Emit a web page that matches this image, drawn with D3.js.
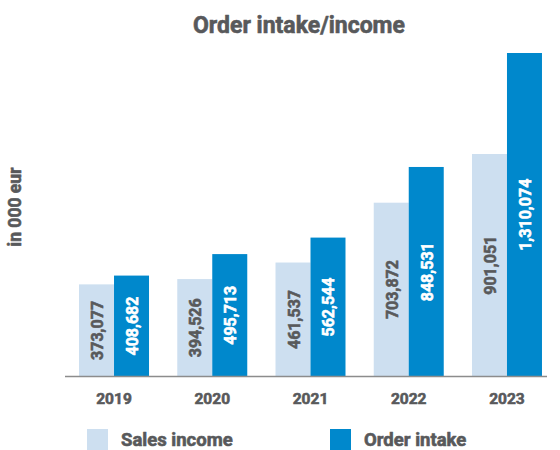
<!DOCTYPE html>
<html>
<head>
<meta charset="utf-8">
<script src="https://cdn.jsdelivr.net/npm/d3@7"></script>
<style>
  html, body { margin: 0; padding: 0; background: #fff; }
  text { font-family: Roboto, "Noto Sans", sans-serif; font-weight: 700; stroke-width: 0.6px; stroke-linejoin: round; }
</style>
</head>
<body>
<svg id="chart" width="560" height="450"></svg>
<script>
// Order intake vs. sales income, in thousand EUR
const years = ["2019", "2020", "2021", "2022", "2023"];
const salesIncome = [373077, 394526, 461537, 703872, 901051];
const orderIntake = [408682, 495713, 562544, 848531, 1310074];
const seriesNames = ["Sales income", "Order intake"];
const seriesColors = ["#cddff0", "#0088cc"];
const labelColors = ["#58595b", "#ffffff"];

const textColor = "#58595b";
const svg = d3.select("#chart");

const baseline = 376.5;
const x0 = d3.scaleBand().domain(years).range([64.9, 556.1])
  .paddingInner(0.2875).paddingOuter(0.14375);
const x1 = d3.scaleBand().domain(seriesNames).range([0, x0.bandwidth()]);
const y = d3.scaleLinear().domain([0, 1310074]).range([baseline, 53]);

const fmt = d3.format(",");

// title
svg.append("text")
  .attr("x", 299).attr("y", 33)
  .attr("text-anchor", "middle")
  .attr("font-size", 23)
  .attr("fill", textColor).attr("stroke", textColor)
  .text("Order intake/income");

// vertical unit label
svg.append("text")
  .attr("transform", "translate(21,207) rotate(-90)")
  .attr("text-anchor", "middle")
  .attr("font-size", 17.5)
  .attr("fill", textColor).attr("stroke", textColor)
  .text("in 000 eur");

const rows = years.map((yr, i) => ({ year: yr, values: [salesIncome[i], orderIntake[i]] }));

const groups = svg.append("g").selectAll("g")
  .data(rows).join("g")
  .attr("transform", d => `translate(${x0(d.year)},0)`);

groups.selectAll("rect")
  .data(d => d.values.map((v, k) => ({ v, k })))
  .join("rect")
  .attr("x", d => x1(seriesNames[d.k]))
  .attr("y", d => y(d.v))
  .attr("width", x1.bandwidth())
  .attr("height", d => baseline - y(d.v))
  .attr("fill", d => seriesColors[d.k]);

groups.selectAll("text.val")
  .data(d => d.values.map((v, k) => ({ v, k })))
  .join("text")
  .attr("class", "val")
  .attr("transform", d => {
    const cx = x1(seriesNames[d.k]) + x1.bandwidth() / 2 + 1;
    const cy = (y(d.v) + baseline) / 2;
    return `translate(${cx},${cy}) rotate(-90)`;
  })
  .attr("text-anchor", "middle")
  .attr("dominant-baseline", "central")
  .attr("font-size", 16)
  .attr("fill", d => labelColors[d.k])
  .attr("stroke", d => labelColors[d.k])
  .text(d => fmt(d.v));

// baseline axis
const axis = svg.append("g").attr("transform", `translate(0,${baseline})`);
axis.append("line")
  .attr("x1", 65).attr("x2", 547)
  .attr("stroke", "#8c8c8c").attr("stroke-width", 1.5);
axis.selectAll("text")
  .data(years).join("text")
  .attr("x", d => x0(d) + x0.bandwidth() / 2)
  .attr("y", 27)
  .attr("text-anchor", "middle")
  .attr("font-size", 15.5)
  .attr("fill", textColor).attr("stroke", textColor)
  .text(d => d);

// legend
const legendX = [87, 330];
const legend = svg.append("g").selectAll("g")
  .data(seriesNames).join("g")
  .attr("transform", (d, i) => `translate(${legendX[i]},429)`);
legend.append("rect")
  .attr("width", 21).attr("height", 21)
  .attr("fill", (d, i) => seriesColors[i]);
legend.append("text")
  .attr("x", 34).attr("y", 16.5)
  .attr("font-size", 18.5)
  .attr("fill", textColor).attr("stroke", textColor)
  .text(d => d);
</script>
</body>
</html>
